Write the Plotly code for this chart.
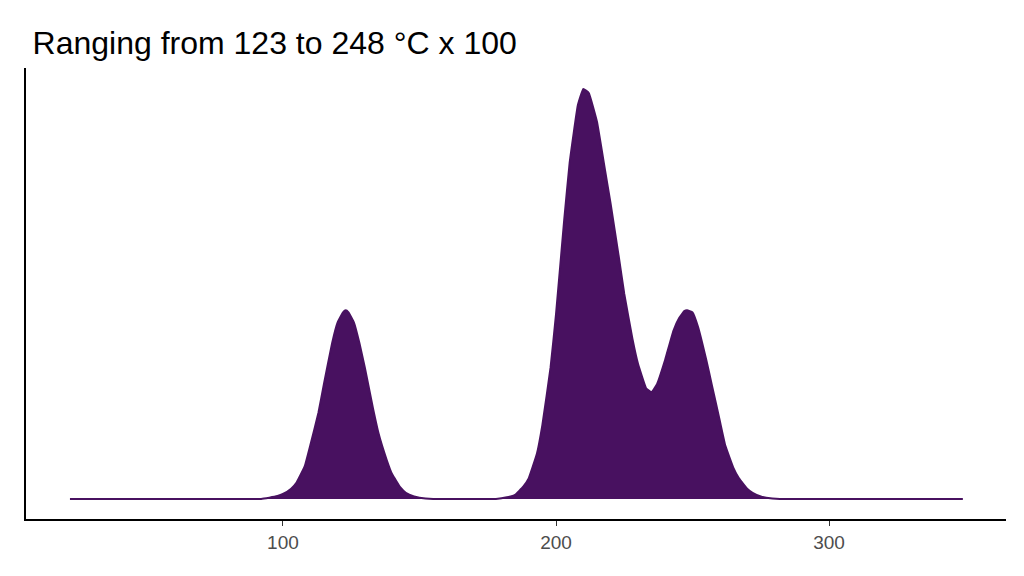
import plotly.graph_objects as go

temps = [22, 60, 92, 95, 98, 100, 103, 105, 108, 110, 113, 115, 118, 120, 122, 123, 124, 126, 128, 130, 133, 135, 138, 140, 143, 145, 148, 150, 155,
         178, 182, 185, 188, 190, 193, 195, 198, 200, 203, 205, 208, 210, 212, 215, 218, 220, 223, 225, 228, 230, 233, 235, 237, 240, 243, 245, 247, 248, 250, 252, 255, 257, 260, 262, 265, 267, 270, 272, 275, 277, 282, 320, 349]
density = [0, 0, 0, 0.003, 0.007, 0.012, 0.025, 0.04, 0.08, 0.13, 0.21, 0.28, 0.38, 0.43, 0.455, 0.46, 0.455, 0.43, 0.38, 0.32, 0.22, 0.16, 0.095, 0.06, 0.028, 0.015, 0.006, 0.003, 0,
           0, 0.004, 0.01, 0.03, 0.05, 0.11, 0.18, 0.32, 0.45, 0.68, 0.82, 0.96, 1.0, 0.99, 0.92, 0.80, 0.72, 0.59, 0.50, 0.39, 0.33, 0.27, 0.26, 0.28, 0.34, 0.41, 0.44, 0.458, 0.46, 0.455, 0.42, 0.34, 0.28, 0.19, 0.13, 0.075, 0.05, 0.025, 0.015, 0.006, 0.003, 0, 0, 0]
tick_vals = [100, 200, 300]

fig = go.Figure(go.Scatter(x=temps, y=density, mode="lines", line=dict(color="#481160", width=2, shape="spline", smoothing=0.3),
                           fill="tozeroy", fillcolor="#481160"))
fig.update_layout(
    width=1024, height=576, plot_bgcolor="white", paper_bgcolor="white", showlegend=False,
    margin=dict(l=18, r=26, t=60, b=65, pad=0),
    title=dict(text="Ranging from 123 to 248 °C x 100", x=0.024, xanchor="left", y=0.94, yanchor="middle",
               font=dict(family="Liberation Sans, Arial", size=32, color="black")),
    xaxis=dict(range=[5.9, 364.8], tickvals=tick_vals, showgrid=False, zeroline=False, showline=True, linecolor="black", linewidth=2,
               automargin=False, ticks="outside", ticklen=5, tickcolor="#333",
               tickfont=dict(family="Liberation Sans, Arial", size=19, color="#4d4d4d")),
    yaxis=dict(range=[-0.049, 1.051], showticklabels=False, showgrid=False, zeroline=False, showline=True, linecolor="black", linewidth=2,
               automargin=False),
)
fig.write_html("out.html")
